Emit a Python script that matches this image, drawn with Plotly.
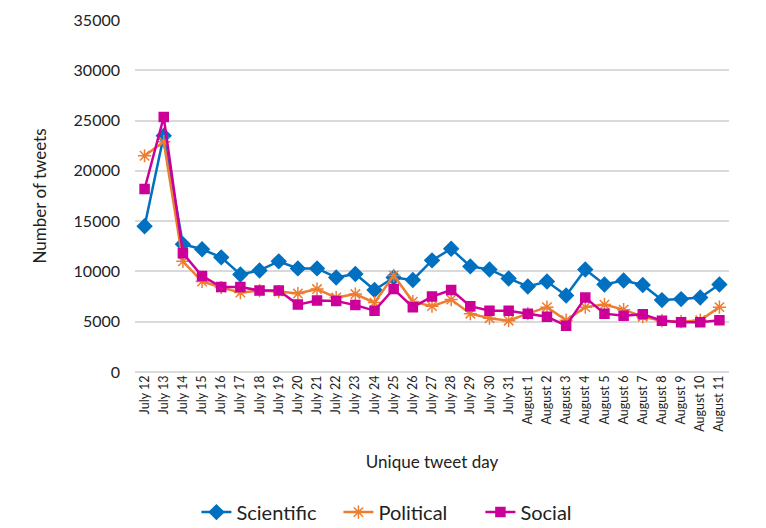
import plotly.graph_objects as go

# ----------------------------
# Data
# ----------------------------
days = [f"July {d}" for d in range(12, 32)] + [f"August {d}" for d in range(1, 12)]

scientific = [14500, 23500, 12700, 12200, 11400, 9700, 10100, 11000, 10300, 10300,
              9400, 9750, 8150, 9400, 9150, 11100, 12250, 10500, 10200, 9300,
              8500, 9000, 7600, 10200, 8700, 9100, 8650, 7150, 7250, 7400, 8700]
political = [21500, 22900, 11000, 9000, 8400, 7900, 8100, 8000, 7800, 8250,
             7400, 7750, 6900, 9600, 7000, 6550, 7200, 5800, 5350, 5100,
             5800, 6450, 5150, 6450, 6700, 6200, 5500, 5100, 5000, 5150, 6450]
social = [18200, 25350, 11800, 9550, 8450, 8450, 8100, 8100, 6700, 7100,
          7050, 6650, 6100, 8250, 6450, 7500, 8150, 6550, 6100, 6100,
          5800, 5500, 4600, 7400, 5800, 5600, 5750, 5100, 4950, 4950, 5150]

series = [
    ("Scientific", scientific, "#0070C0", "diamond", 11),
    ("Political", political, "#ED7D31", "asterisk-open", 11),
    ("Social", social, "#CC0099", "square", 9),
]

FONT = "Lato"

fig = go.Figure()
for name, vals, color, symbol, size in series:
    fig.add_trace(go.Scatter(
        x=days, y=vals, name=name, mode="lines+markers",
        line=dict(color=color, width=2.5),
        marker=dict(symbol=symbol, size=size, color=color,
                    line=dict(color=color, width=1.5)),
    ))

# the page body adds an 8px offset, so the figure is a bit larger and shifted
fig.update_layout(
    width=774, height=536,
    margin=dict(l=127, r=53, t=12, b=172),
    paper_bgcolor="white", plot_bgcolor="white",
    font=dict(family=FONT, color="#222222"),
    showlegend=True,
    legend=dict(orientation="h", x=0.462, xanchor="center", y=-0.398, yanchor="middle",
                font=dict(size=20, family=FONT), itemwidth=30, entrywidth=97),
    xaxis=dict(
        type="category", range=[-0.5, len(days) - 0.5],
        tickangle=-90, tickfont=dict(size=12.5),
        showgrid=False, showline=False, ticks="", automargin=False,
        title=dict(text="Unique tweet day", font=dict(size=17), standoff=25),
    ),
    yaxis=dict(
        range=[0, 35000], dtick=5000, tickformat="d", automargin=False,
        showgrid=True, gridcolor="#D9D9D9", gridwidth=1.5,
        zeroline=True, zerolinecolor="#D9D9D9", zerolinewidth=1.5,
        tickfont=dict(size=16), ticks="", ticklabelstandoff=14,
        title=dict(text="Number of tweets", font=dict(size=17), standoff=22),
    ),
)

fig.write_html("out.html")
